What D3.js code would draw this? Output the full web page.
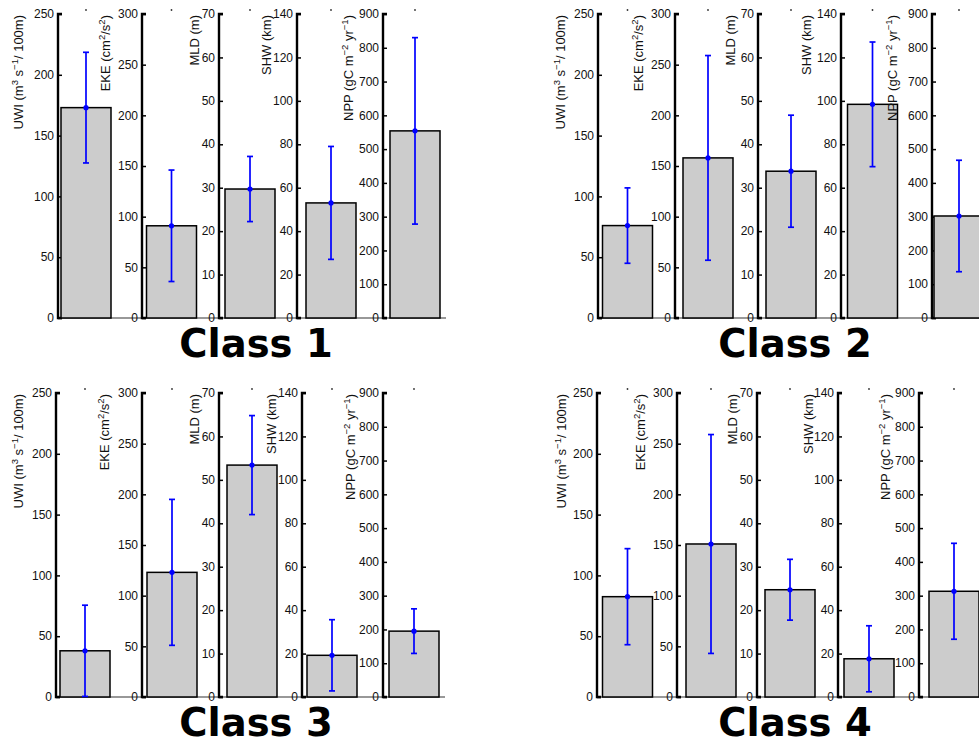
<!DOCTYPE html>
<html><head><meta charset="utf-8">
<script src="https://cdn.jsdelivr.net/npm/d3@7"></script>
<style>body{margin:0;background:#fff}</style>
</head><body>
<svg id="c" width="979" height="745"></svg>
<script>
// ---------- data ----------
const classes = ["Class 1", "Class 2", "Class 3", "Class 4"];
const variables = ["UWI", "EKE", "MLD", "SHW", "NPP"];
const yMax = [250, 300, 70, 140, 900];
const yStep = [50, 50, 10, 20, 100];
const meansC1 = [173, 91, 29.7, 53, 554];
const errC1 = [45.5, 55, 7.5, 26, 276];
const meansC2 = [76, 158, 33.8, 98.4, 302];
const errC2 = [31, 101, 12.9, 28.7, 165];
const meansC3 = [38, 123, 53.4, 19.2, 195];
const errC3 = [37.5, 72, 11.4, 16.4, 66];
const meansC4 = [82.5, 151, 24.7, 17.6, 313];
const errC4 = [39.5, 108, 7, 15.2, 142];
const allMeans = [meansC1, meansC2, meansC3, meansC4];
const allErr = [errC1, errC2, errC3, errC4];
// labels: [text, superscript] segments
const yLabels = [
  [["UWI (m",""],["3","sup"],[" s",""],["\u22121","sup"],["/ 100m)",""]],
  [["EKE (cm",""],["2","sup"],["/s",""],["2","sup"],[")",""]],
  [["MLD (m)",""]],
  [["SHW (km)",""]],
  [["NPP (gC m",""],["\u22122","sup"],[" yr",""],["\u22121","sup"],[")",""]]
];

// ---------- layout ----------
const panelTop = [14, 14, 393, 393];
const plotH = 304;
const axisX = [[58,142,219,297,383],[598,675,758,841,932],[56,142,219,302,383],[597,677,757,838,919]];
const barCenter = [[86,171.5,250,331,415],[627.5,708,791,872.5,959],[85,172,252,332,414],[627.5,711,790,869,954]];
const labelX = [[18,105,194,266,348],[560,638,730,806,892],[18,104,194,271,350],[561,640,732,808,885]];
const titleX = [256, 795, 256, 795];
const titleY = [357, 357, 736, 736];

const svg = d3.select("#c");

classes.forEach((cls, ci) => {
  const g = svg.append("g");
  const top = panelTop[ci], bottom = top + plotH;
  // baseline line
  g.append("line")
    .attr("x1", axisX[ci][0]).attr("x2", Math.min(979, barCenter[ci][4] + 31))
    .attr("y1", bottom).attr("y2", bottom)
    .attr("stroke", "#333").attr("stroke-width", 1.2);

  variables.forEach((v, vi) => {
    const y = d3.scaleLinear().domain([0, yMax[vi]]).range([bottom, top]);
    const x = d3.scaleLinear().domain([0.5, 1.5]).range([barCenter[ci][vi] - 31.25, barCenter[ci][vi] + 31.25]);
    const sg = g.append("g");
    const ticks = d3.range(0, yMax[vi] + 0.001, yStep[vi]);
    const ax = d3.axisRight(y).tickValues(ticks).tickSize(4).tickFormat(() => "");
    const axg = sg.append("g").attr("transform", `translate(${axisX[ci][vi]},0)`).call(ax);
    axg.select(".domain").attr("stroke", "#000").attr("stroke-width", 2.4).attr("fill", "none").attr("d", `M4,${top}H0V${bottom}H4`);
    axg.selectAll(".tick line").attr("stroke", "#000").attr("stroke-width", 1.5);
    // tick labels
    sg.selectAll("text.tl").data(ticks).enter().append("text")
      .attr("class", "tl")
      .attr("x", axisX[ci][vi] - 4).attr("y", d => y(d)).attr("dy", "0.35em")
      .attr("text-anchor", "end")
      .attr("font-family", "Liberation Sans, Arial, sans-serif").attr("font-size", 12)
      .attr("fill", "#111").text(d => d);
    // bar
    const m = allMeans[ci][vi], e = allErr[ci][vi];
    sg.append("rect")
      .attr("x", x(0.6)).attr("width", x(1.4) - x(0.6))
      .attr("y", y(m)).attr("height", y(0) - y(m))
      .attr("fill", "#cccccc").attr("stroke", "#000").attr("stroke-width", 1.5);
    // error bar
    const cx = x(1), lo = Math.max(0, m - e), hi = m + e;
    sg.append("line").attr("x1", cx).attr("x2", cx).attr("y1", y(lo)).attr("y2", y(hi))
      .attr("stroke", "#0000ff").attr("stroke-width", 1.7);
    [lo, hi].forEach(val => {
      sg.append("line").attr("x1", cx - 3).attr("x2", cx + 3).attr("y1", y(val)).attr("y2", y(val))
        .attr("stroke", "#0000ff").attr("stroke-width", 1.7);
    });
    sg.append("circle").attr("cx", cx).attr("cy", y(m)).attr("r", 2.6).attr("fill", "#0000ff");
    // small dot at top
    sg.append("circle").attr("cx", cx).attr("cy", top - 4).attr("r", 0.9).attr("fill", "#333");
  });
  // y labels (drawn after all subplots)
  variables.forEach((v, vi) => {
    const lx = labelX[ci][vi], ly = top + 1;
    const t = g.append("text")
      .attr("transform", `translate(${lx},${ly}) rotate(-90)`)
      .attr("text-anchor", "end").attr("dy", "0.35em")
      .attr("font-family", "Liberation Sans, Arial, sans-serif").attr("font-size", 13)
      .attr("fill", "#111");
    let inSup = false;
    yLabels[vi].forEach(([s, kind]) => {
      const sp = t.append("tspan").text(s);
      if (kind === "sup" && !inSup) { sp.attr("font-size", 9.5).attr("dy", -5); inSup = true; }
      else if (kind !== "sup" && inSup) { sp.attr("dy", 5); inSup = false; }
      else if (kind === "sup") { sp.attr("font-size", 9.5); }
    });
  });
  // title
  svg.append("text").attr("x", titleX[ci]).attr("y", titleY[ci])
    .attr("text-anchor", "middle")
    .attr("font-family", "DejaVu Sans, sans-serif").attr("font-weight", "bold").attr("font-size", 38.5)
    .attr("fill", "#000").text(cls);
});
</script>
</body></html>
